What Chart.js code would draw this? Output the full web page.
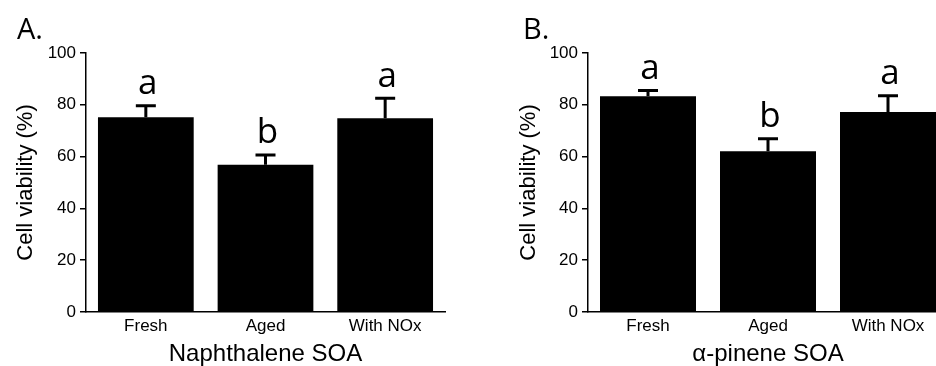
<!DOCTYPE html>
<html>
<head>
<meta charset="utf-8">
<script src="https://cdn.jsdelivr.net/npm/chart.js@4.4.0/dist/chart.umd.min.js"></script>
<style>
  html, body { margin: 0; padding: 0; background: #fff; overflow: hidden; }
  #wrap { position: relative; width: 936px; height: 366px; overflow: hidden; }
  canvas { position: absolute; top: 0; }
</style>
</head>
<body>
<div id="wrap">
  <canvas id="chartA" width="468" height="366" style="left:0"></canvas>
  <canvas id="chartB" width="480" height="366" style="left:468px"></canvas>
</div>
<script>
const categories = ['Fresh', 'Aged', 'With NOx'];
const yTicks = [0, 20, 40, 60, 80, 100];

const naphMean = [75.2, 56.9, 74.8];
const naphErr = [5.0, 4.3, 8.3];
const naphLetters = ['a', 'b', 'a'];

const pineneMean = [83.3, 62.1, 77.2];
const pineneErr = [2.8, 5.4, 6.9];
const pineneLetters = ['a', 'b', 'a'];

// error bars (upper only), significance letters and panel tag
const errorBars = {
  id: 'errorBars',
  afterDatasetsDraw(chart, args, opts) {
    const ctx = chart.ctx;
    const y = chart.scales.y;
    const meta = chart.getDatasetMeta(0);
    ctx.save();
    meta.data.forEach((bar, i) => {
      const top = y.getPixelForValue(opts.mean[i] + opts.err[i]);
      ctx.strokeStyle = '#000';
      ctx.lineWidth = 3;
      ctx.beginPath();
      ctx.moveTo(bar.x, bar.y);
      ctx.lineTo(bar.x, top);
      ctx.moveTo(bar.x - 10, top + 1.5);
      ctx.lineTo(bar.x + 10, top + 1.5);
      ctx.stroke();
      ctx.fillStyle = '#000';
      ctx.font = '35px "Open Sans"';
      ctx.textAlign = 'center';
      ctx.textBaseline = 'alphabetic';
      ctx.fillText(opts.letters[i], bar.x + 2, top - 10);
    });
    ctx.font = '29px "Open Sans"';
    ctx.textAlign = 'left';
    ctx.fillText(opts.tag, opts.tagX, 39);
    ctx.restore();
  }
};

function makeChart(id, mean, err, letters, xTitle, tag, tagX, pad, yWidth) {
  return new Chart(document.getElementById(id), {
    type: 'bar',
    data: {
      labels: categories,
      datasets: [{
        data: mean,
        backgroundColor: '#000',
        borderWidth: 0,
        barPercentage: 0.8,
        categoryPercentage: 1.0
      }]
    },
    options: {
      responsive: false,
      animation: false,
      devicePixelRatio: 1,
      layout: { padding: pad },
      plugins: {
        legend: { display: false },
        tooltip: { enabled: false },
        errorBars: { mean: mean, err: err, letters: letters, tag: tag, tagX: tagX }
      },
      scales: {
        x: {
          grid: { display: false, drawTicks: false },
          border: { display: true, color: '#000', width: 1.5 },
          ticks: { color: '#000', padding: 4, font: { family: 'Liberation Sans', size: 17 } },
          title: {
            display: true, text: xTitle, color: '#000',
            font: { family: 'Liberation Sans', size: 24, lineHeight: 1 },
            padding: { top: 0, bottom: 0 }
          },
          afterFit(scale) { scale.height = 54; }
        },
        y: {
          min: 0, max: 100,
          afterBuildTicks(scale) { scale.ticks = yTicks.map(v => ({ value: v })); },
          grid: { display: true, drawOnChartArea: false, drawTicks: true, tickLength: 6, color: '#000', lineWidth: 1.5 },
          border: { display: true, color: '#000', width: 1.5 },
          ticks: { color: '#000', padding: 4, font: { family: 'Liberation Sans', size: 17 } },
          title: {
            display: true, text: 'Cell viability (%)', color: '#000',
            font: { family: 'Liberation Sans', size: 22, lineHeight: 1 },
            padding: { top: 0, bottom: 0 }
          },
          afterFit(scale) { scale.width = yWidth; }
        }
      }
    },
    plugins: [errorBars]
  });
}

makeChart('chartA', naphMean, naphErr, naphLetters, 'Naphthalene SOA', 'A.', 17,
  { left: 15, right: 23, top: 53, bottom: 0 }, 71);
makeChart('chartB', pineneMean, pineneErr, pineneLetters, 'α-pinene SOA', 'B.', 55,
  { left: 50, right: 0, top: 53, bottom: 0 }, 70);
</script>
</body>
</html>
